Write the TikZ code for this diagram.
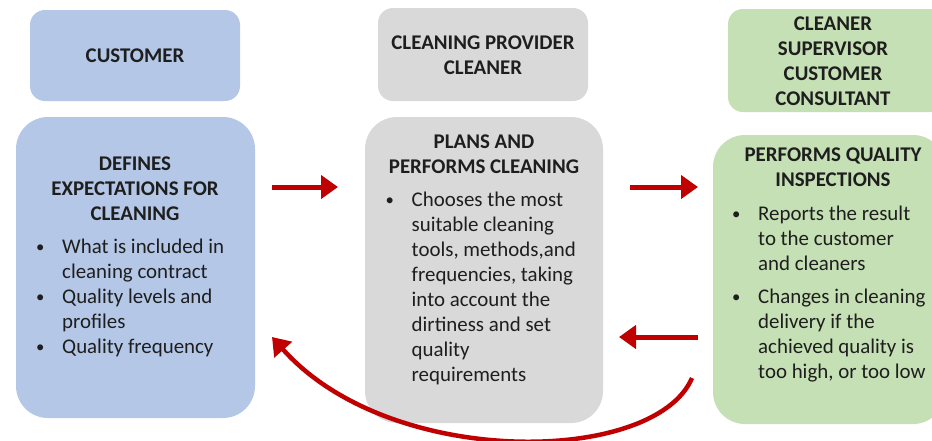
\documentclass[tikz,border=0pt]{standalone}
\usepackage{fontspec}
\usepackage{graphicx}
\setmainfont{Carlito}
\usetikzlibrary{arrows.meta}
\definecolor{cblue}{HTML}{B4C7E7}
\definecolor{cgray}{HTML}{D9D9D9}
\definecolor{cgreen}{HTML}{C5E0B4}
\definecolor{cred}{HTML}{C00000}
\definecolor{ctext}{HTML}{1E1E1E}
\newcommand{\bul}[1]{\makebox[26pt][l]{\raisebox{1pt}{\scalebox{0.8}{\textbullet}}}#1}
\newcommand{\cont}[1]{\hspace*{26pt}#1}
\tikzset{
  topbox/.style={fill=#1, rounded corners=15pt, inner sep=0pt},
  bigbox/.style={fill=#1, rounded corners=32pt, inner sep=0pt},
  txt/.style={inner sep=0pt, font=\fontsize{20.9}{25}\selectfont, text=ctext},
  head/.style={txt, align=center, anchor=north, font=\fontsize{20.9}{25}\selectfont\bfseries},
  list/.style={txt, align=left, anchor=north west},
  redarrow/.style={draw=cred, line width=5pt, -{Triangle[length=17pt,width=23pt]}}
}
\begin{document}
\begin{tikzpicture}[x=1pt,y=-1pt]
\clip (0,0) rectangle (932,440);
\fill[white] (0,0) rectangle (932,440);
% boxes
\node[topbox=cblue, minimum width=210pt, minimum height=91pt] (custtop) at (135,55.5) {};
\node[topbox=cgray, minimum width=210pt, minimum height=93pt] (provtop) at (483,54.5) {};
\node[topbox=cgreen, minimum width=217pt, minimum height=103pt] (suptop) at (836.5,60.5) {};
\node[bigbox=cblue, minimum width=239pt, minimum height=301pt] (defbox) at (135.5,267.5) {};
\node[bigbox=cgray, minimum width=238pt, minimum height=306pt] (planbox) at (484,270) {};
\node[bigbox=cgreen, minimum width=232pt, minimum height=289pt] (inspbox) at (829,279.5) {};
% top labels
\node[txt, anchor=base, font=\fontsize{20.9}{25}\selectfont\bfseries] (custlbl) at (135,62.7) {CUSTOMER};
\node[head] (provlbl) at (483,31.8) {\strut CLEANING PROVIDER\\CLEANER};
\node[head] (suplbl) at (833,13.2) {\strut CLEANER\\SUPERVISOR\\CUSTOMER\\CONSULTANT};
% headings
\node[head] (defhead) at (135,152.5) {\strut DEFINES\\EXPECTATIONS FOR\\CLEANING};
\node[head] (planhead) at (484,130.8) {\strut PLANS AND\\PERFORMS CLEANING};
\node[head] (insphead) at (833,144.2) {\strut PERFORMS QUALITY\\INSPECTIONS};
% bullet lists
\node[list] (deflist) at (36,235.5) {\strut\bul{What is included in}\\\cont{cleaning contract}\\\bul{Quality levels and}\\\cont{profiles}\\\bul{Quality frequency}};
\node[list] (planlist) at (385.5,188.5) {\strut\bul{Chooses the most}\\\cont{suitable cleaning}\\\cont{tools, methods,and}\\\cont{frequencies, taking}\\\cont{into account the}\\\cont{dirtiness and set}\\\cont{quality}\\\cont{requirements}};
\node[list] (insplist) at (732,202.5) {\strut\bul{Reports the result}\\\cont{to the customer}\\\cont{and cleaners}\\[8pt]\bul{Changes in cleaning}\\\cont{delivery if the}\\\cont{achieved quality is}\\\cont{too high, or too low}};
% arrows
\coordinate (a1s) at (272,187);
\coordinate (a1e) at (338,187);
\coordinate (a2s) at (630,187);
\coordinate (a2e) at (698,187);
\coordinate (a3s) at (698,337);
\coordinate (a3e) at (619,337);
\coordinate (a4s) at (692,378);
\coordinate (a4e) at (272,337);
\draw[redarrow] (a1s) -- (a1e);
\draw[redarrow] (a2s) -- (a2e);
\draw[redarrow] (a3s) -- (a3e);
\draw[redarrow, line width=4.5pt] (a4s) .. controls (655,465) and (390,470) .. (a4e);
\end{tikzpicture}
\end{document}
